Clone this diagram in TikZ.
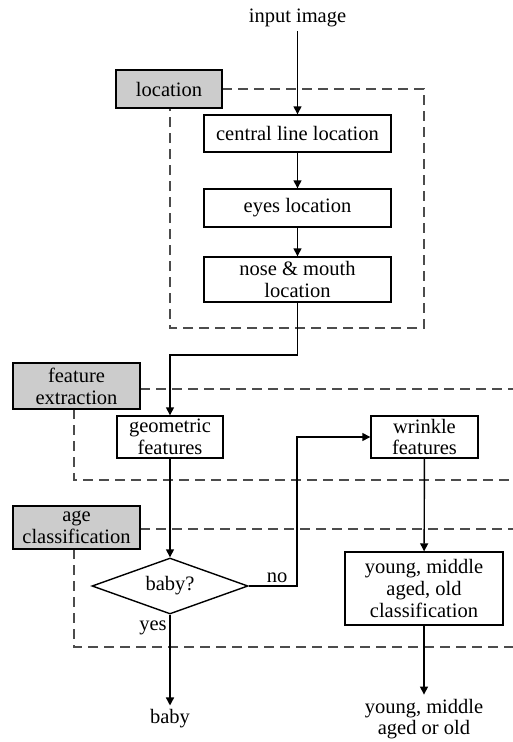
\documentclass[tikz,border=0pt]{standalone}
\usepackage{fontspec}
\setmainfont{Liberation Serif}
\usetikzlibrary{arrows.meta,shapes.geometric}
\begin{document}
\begin{tikzpicture}[x=1pt,y=-1pt, font=\fontsize{20.5}{21.8}\selectfont,
 box/.style={draw, line width=1.4pt, align=center, inner sep=0pt},
 lab/.style={box, fill=gray!40},
 grp/.style={draw, line width=1.4pt, dash pattern=on 10pt off 6pt, gray!60!black},
 arr/.style={line width=1.4pt, -{Triangle[length=8pt,width=8pt]}},
 txt/.style={align=center, inner sep=4pt}]
\useasboundingbox (0,0) rectangle (513,742);
% group frames
\draw[grp] (222,89) -- (424,89) -- (424,328) -- (170,328) -- (170,108);
\draw[grp] (140,389) -- (513,389);
\draw[grp] (74,409) -- (74,480) -- (513,480);
\draw[grp] (140,529) -- (513,529);
\draw[grp] (74,549) -- (74,647) -- (513,647);
% labels
\node[lab, minimum width=106pt, minimum height=38pt] (loclab) at (169,89) {location};
\node[lab, minimum width=127pt, minimum height=46pt] (felab) at (76.5,386) {feature\\extraction};
\node[lab, minimum width=127pt, minimum height=43pt] (aclab) at (76.5,527.5) {age\\classification};
% nodes
\node[txt] (input) at (297.5,18) {input image};
\node[box, minimum width=187pt, minimum height=37pt] (cl) at (297.5,133.5) {central line location};
\node[box, minimum width=187pt, minimum height=38pt] (eyes) at (297.5,208) {eyes location};
\node[box, minimum width=187pt, minimum height=45pt] (nose) at (297.5,279.5) {nose \& mouth\\location};
\node[box, minimum width=106pt, minimum height=42pt] (geo) at (170,437) {geometric\\features};
\node[box, minimum width=107pt, minimum height=42pt] (wr) at (424.5,437) {wrinkle\\features};
\node[draw, line width=1.4pt, shape=diamond, inner sep=0pt, shape aspect=2.8, minimum width=156pt, minimum height=56pt] (dia) at (170,586) {baby?};
\node[box, minimum width=158pt, minimum height=73pt] (yc) at (424,588.5) {young, middle\\aged, old\\classification};
\node[txt] (babyout) at (170,719) {baby};
\node[txt] (yout) at (424,719) {young, middle\\aged or old};
\node[inner sep=0pt] (nolab) at (277,578) {no};
\node[inner sep=0pt] (yeslab) at (153,628) {yes};
\coordinate (j1) at (297.5,355);
\coordinate (j2) at (297,437);
% connectors
\draw[arr] (input) -- (cl);
\draw[arr] (cl) -- (eyes);
\draw[arr] (eyes) -- (nose);
\draw[arr] (nose) -- (j1) -| (geo);
\draw[arr] (geo) -- (dia);
\draw[arr] (dia.east) -| (j2) -- (wr);
\draw[arr] (wr) -- (yc);
\draw[arr] (dia.south) -- (babyout);
\draw[arr] (yc) -- (yout);
\end{tikzpicture}
\end{document}
